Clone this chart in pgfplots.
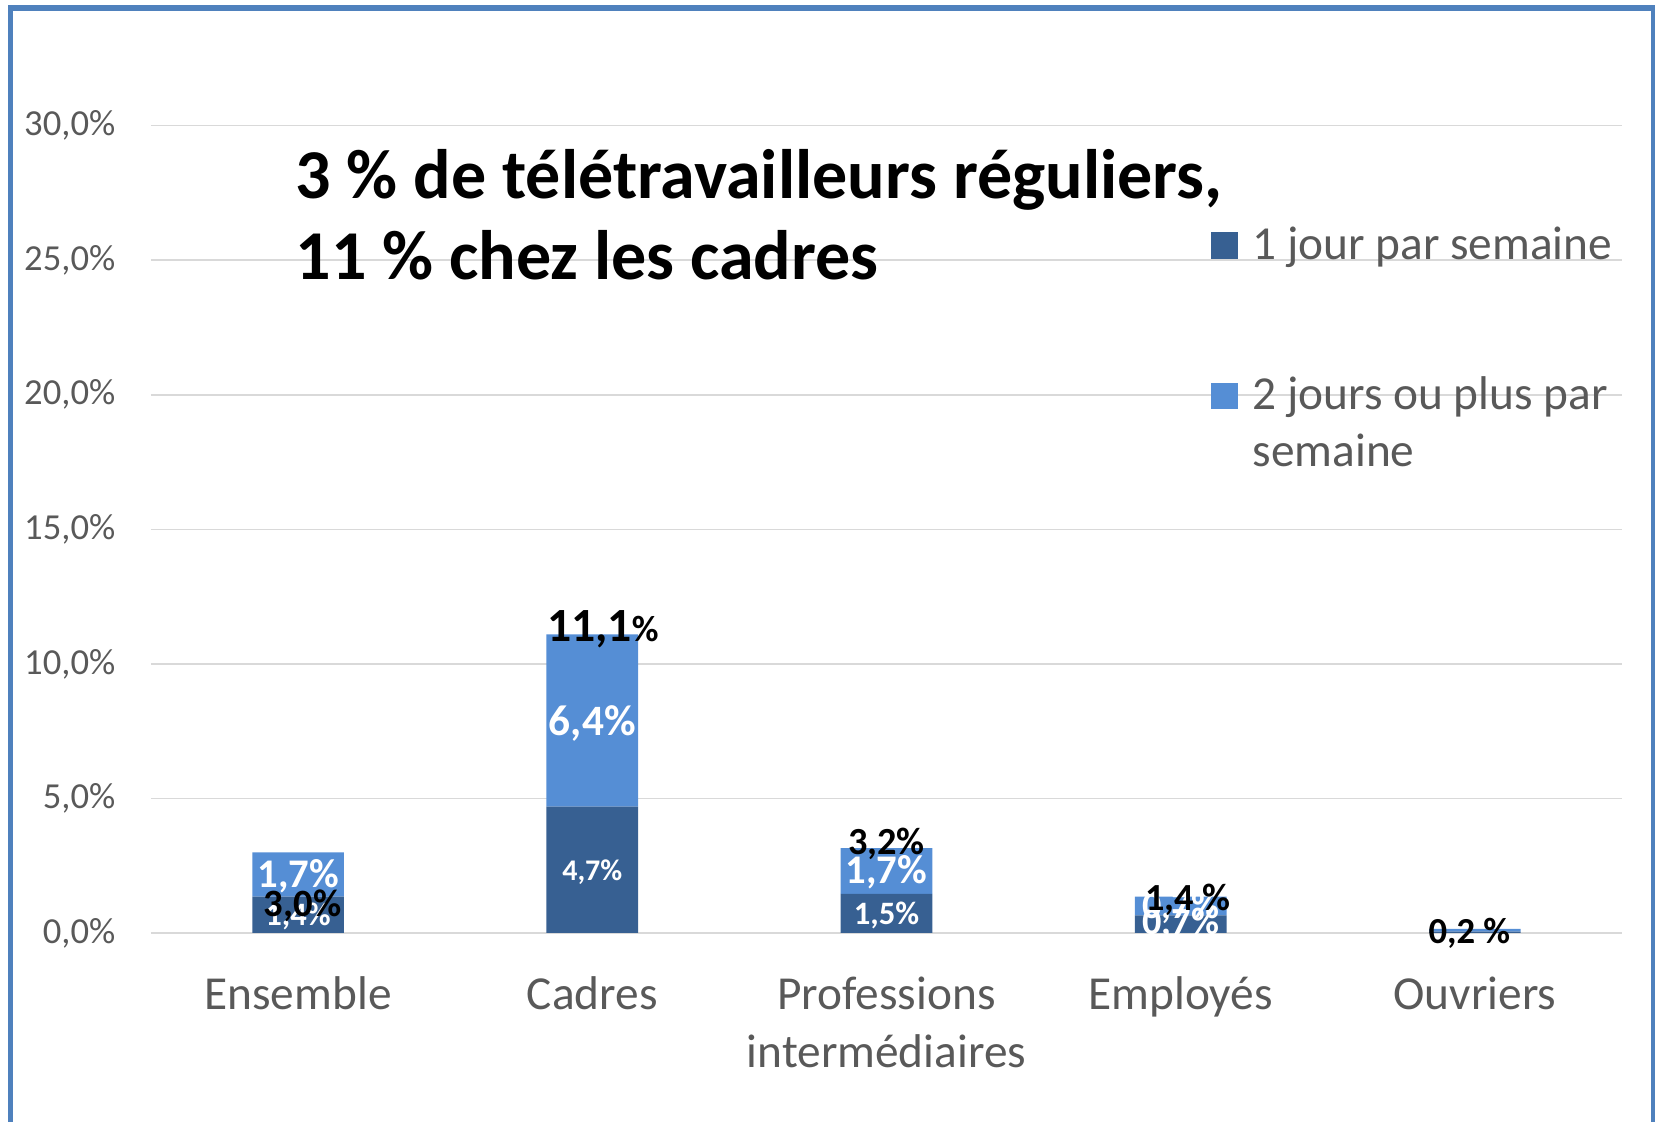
\documentclass[border=0pt]{standalone}
\usepackage{pgfplots}
\pgfplotsset{compat=1.18}
\usepackage{fontspec}
\setmainfont{Carlito}
\definecolor{darkb}{HTML}{376092}
\definecolor{lightb}{HTML}{558ED5}
\definecolor{gridc}{HTML}{D9D9D9}
\definecolor{txtg}{HTML}{595959}
\definecolor{framec}{HTML}{4F81BD}
\begin{document}
\begin{tikzpicture}
\useasboundingbox (-45.3pt,-56.7pt) rectangle (451.2pt,279.9pt);
\begin{axis}[
  at={(0pt,0pt)}, anchor=south west,
  scale only axis, width=441.3pt, height=242.2pt,
  ybar stacked, bar width=27.5pt,
  xmin=-0.5, xmax=4.5, ymin=0, ymax=30,
  xtick={0,1,2,3,4},
  xticklabels={Ensemble,Cadres,Professions\\intermédiaires,Employés,Ouvriers},
  ytick={0,5,10,15,20,25,30},
  ymajorgrids, grid style={gridc, line width=0.45pt},
  axis line style={draw=none},
  major tick length=0pt,
  /pgf/number format/assume math mode=true,
  yticklabel={\pgfmathprintnumber[fixed,fixed zerofill,precision=1,use comma]{\tick}\%},
  yticklabel style={font=\fontsize{11}{13}\selectfont, text=txtg, anchor=east, inner sep=0pt, xshift=-10.5pt},
  xticklabel style={font=\fontsize{14.2}{17.4}\selectfont, text=txtg, anchor=north, inner sep=0pt, yshift=-13pt, align=center},
  clip=false,
]
\addplot[fill=darkb, draw=none] coordinates {(0,1.35) (1,4.7) (2,1.45) (3,0.65) (4,0.05)};
\addplot[fill=lightb, draw=none] coordinates {(0,1.65) (1,6.4) (2,1.7) (3,0.7) (4,0.1)};
\end{axis}
% data labels (x = (cat+0.5)*88.26pt, y = value*8.0733pt)
\begin{scope}[every node/.style={inner sep=0pt}]
\node[font=\bfseries\fontsize{9.8}{11}\selectfont, text=white] at (44.13pt,5.09pt) {1,4\%};
\node[font=\bfseries\fontsize{12.2}{14}\selectfont, text=white] at (44.13pt,17.12pt) {1,7\%};
\node[font=\bfseries\fontsize{9}{10}\selectfont, text=white] at (132.39pt,18.33pt) {4,7\%};
\node[font=\bfseries\fontsize{13}{15}\selectfont, text=white] at (132.39pt,62.97pt) {6,4\%};
\node[font=\bfseries\fontsize{9.8}{11}\selectfont, text=white] at (220.65pt,5.41pt) {1,5\%};
\node[font=\bfseries\fontsize{12.2}{14}\selectfont, text=white] at (220.65pt,18.08pt) {1,7\%};
\node[font=\bfseries\fontsize{11.5}{13}\selectfont, text=white] at (308.91pt,2.83pt) {0,7\%};
\node[font=\bfseries\fontsize{11.5}{13}\selectfont, text=white] at (308.91pt,7.59pt) {0,7\%};
\node[font=\bfseries\fontsize{11.6}{13}\selectfont, text=black] at (45.45pt,8.07pt) {3,0\%};
\node[font=\bfseries\fontsize{14.3}{16}\selectfont, text=black] at (135.57pt,91.23pt) {11,1{\fontsize{11}{13}\selectfont\%}};
\node[font=\bfseries\fontsize{11.5}{13}\selectfont, text=black] at (220.65pt,26.64pt) {3,2\%};
\node[font=\bfseries\fontsize{11.5}{13}\selectfont, text=black] at (311.12pt,9.85pt) {1,4 \%};
\node[font=\bfseries\fontsize{11}{12}\selectfont, text=black] at (395.5pt,0pt) {0,2 \%};
\end{scope}
% title
\node[anchor=base west, inner sep=0pt, align=left, font=\bfseries\fontsize{21}{24.5}\selectfont] at (43.2pt,195.9pt) {3 \% de télétravailleurs réguliers,\\11 \% chez les cadres};
% legend
\fill[darkb] (318pt,202.2pt) rectangle (326pt,210.2pt);
\fill[lightb] (318pt,157.1pt) rectangle (326pt,165.1pt);
\node[anchor=base west, inner sep=0pt, align=left, text=txtg, font=\fontsize{14.2}{17.2}\selectfont] at (330.3pt,202.1pt) {1 jour par semaine};
\node[anchor=base west, inner sep=0pt, align=left, text=txtg, font=\fontsize{14.2}{17.2}\selectfont] at (330.3pt,139.8pt) {2 jours ou plus par\\semaine};
% frame
\draw[framec, line width=1.6pt] (-42.1pt,-60pt) -- (-42.1pt,277.5pt) -- (450.7pt,277.5pt) -- (450.7pt,-60pt);
\end{tikzpicture}
\end{document}
